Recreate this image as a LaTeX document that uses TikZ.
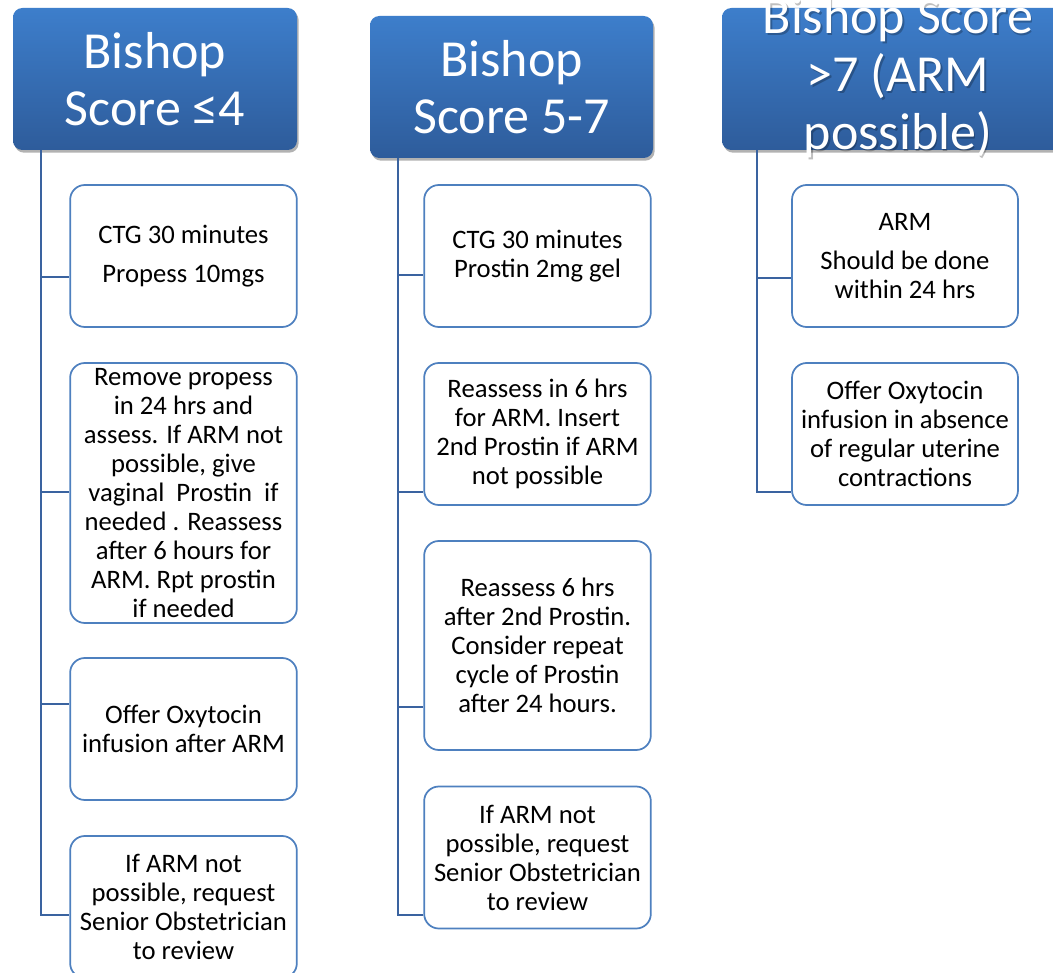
\documentclass[tikz,border=0pt]{standalone}
\usepackage{fontspec}
\setmainfont{Carlito}
\usetikzlibrary{shadows}
\definecolor{hdtop}{HTML}{3D7ECB}
\definecolor{hdbot}{HTML}{2E5C9B}
\definecolor{boxline}{HTML}{4E80BF}
\definecolor{connline}{HTML}{3A63A0}
\tikzset{
  header/.style={rounded corners=7pt, top color=hdtop, bottom color=hdbot, draw=none,
    text=white, align=center, inner sep=0pt, minimum height=106.5pt,
    font=\fontsize{39}{43}\selectfont,
    drop shadow={shadow xshift=1.2pt, shadow yshift=-2pt, opacity=0.3, fill=black}},
  headertext/.style={text=white, align=center, inner sep=0pt,
    font=\fontsize{39}{43.5}\selectfont},
  childbox/.style={draw=boxline, line width=1.3pt, rounded corners=11pt, fill=white,
    align=center, inner sep=0pt, minimum width=170pt, minimum height=106.5pt,
    font=\fontsize{20}{21.75}\selectfont, text=black},
  conn/.style={draw=connline, line width=1.5pt}
}
\begin{document}
\begin{tikzpicture}[x=0.75pt, y=-0.75pt]
\useasboundingbox (0,0) rectangle (1053,973);
\clip (0,0) rectangle (1053,973);
\fill[white] (0,0) rectangle (1053,973);

% headers
\node[header, minimum width=213pt] (h1) at (155,79) {Bishop\\Score ≤4};
\node[header, minimum width=212.25pt] (h2) at (511.5,87) {Bishop\\Score 5-7};
\node[header, minimum width=264pt] (h3) at (898,79) {};
\node[headertext, text=black, text opacity=0.25] (h3s) at (899.5,80) {Bishop Score\\>7 (ARM\\possible)};
\node[headertext] (h3t) at (898,78) {Bishop Score\\>7 (ARM\\possible)};

% column 1
\node[childbox] (c11) at (183.5,256) {CTG 30 minutes\\[8pt]Propess 10mgs};
\node[childbox, minimum height=195pt] (c12) at (183.5,493) {Remove propess\\in 24 hrs and\\assess. If ARM not\\possible, give\\vaginal\ \ Prostin\ \ if\\needed . Reassess\\after 6 hours for\\ARM. Rpt prostin\\if needed};
\node[childbox] (c13) at (183.5,729) {Offer Oxytocin\\infusion after ARM};
\node[childbox] (c14) at (183.5,907) {If ARM not\\possible, request\\Senior Obstetrician\\to review};

% column 2
\node[childbox] (c21) at (537.5,256) {CTG 30 minutes\\Prostin 2mg gel};
\node[childbox] (c22) at (537.5,434) {Reassess in 6 hrs\\for ARM. Insert\\2nd Prostin if ARM\\not possible};
\node[childbox, minimum height=156.75pt] (c23) at (537.5,645.5) {Reassess 6 hrs\\after 2nd Prostin.\\Consider repeat\\cycle of Prostin\\after 24 hours.};
\node[childbox] (c24) at (537.5,857.5) {If ARM not\\possible, request\\Senior Obstetrician\\to review};

% column 3
\node[childbox, minimum width=169.5pt] (c31) at (905,256) {ARM\\[8pt]Should be done\\within 24 hrs};
\node[childbox, minimum width=169.5pt] (c32) at (905,434) {Offer Oxytocin\\infusion in absence\\of regular uterine\\contractions};

% connector points
\coordinate (t11) at (41,277);
\coordinate (t12) at (41,492);
\coordinate (t13) at (41,704);
\coordinate (t14) at (41,915);
\coordinate (t21) at (398,275);
\coordinate (t22) at (398,492);
\coordinate (t23) at (398,707);
\coordinate (t24) at (398,915);
\coordinate (t31) at (757,278);
\coordinate (t32) at (757,492);

% connectors
\draw[conn] (h1.south -| t14) -- (t14) -- (t14 -| c14.west);
\draw[conn] (t11) -- (t11 -| c11.west);
\draw[conn] (t12) -- (t12 -| c12.west);
\draw[conn] (t13) -- (t13 -| c13.west);
\draw[conn] (h2.south -| t24) -- (t24) -- (t24 -| c24.west);
\draw[conn] (t21) -- (t21 -| c21.west);
\draw[conn] (t22) -- (t22 -| c22.west);
\draw[conn] (t23) -- (t23 -| c23.west);
\draw[conn] (h3.south -| t32) -- (t32) -- (t32 -| c32.west);
\draw[conn] (t31) -- (t31 -| c31.west);
\end{tikzpicture}
\end{document}
